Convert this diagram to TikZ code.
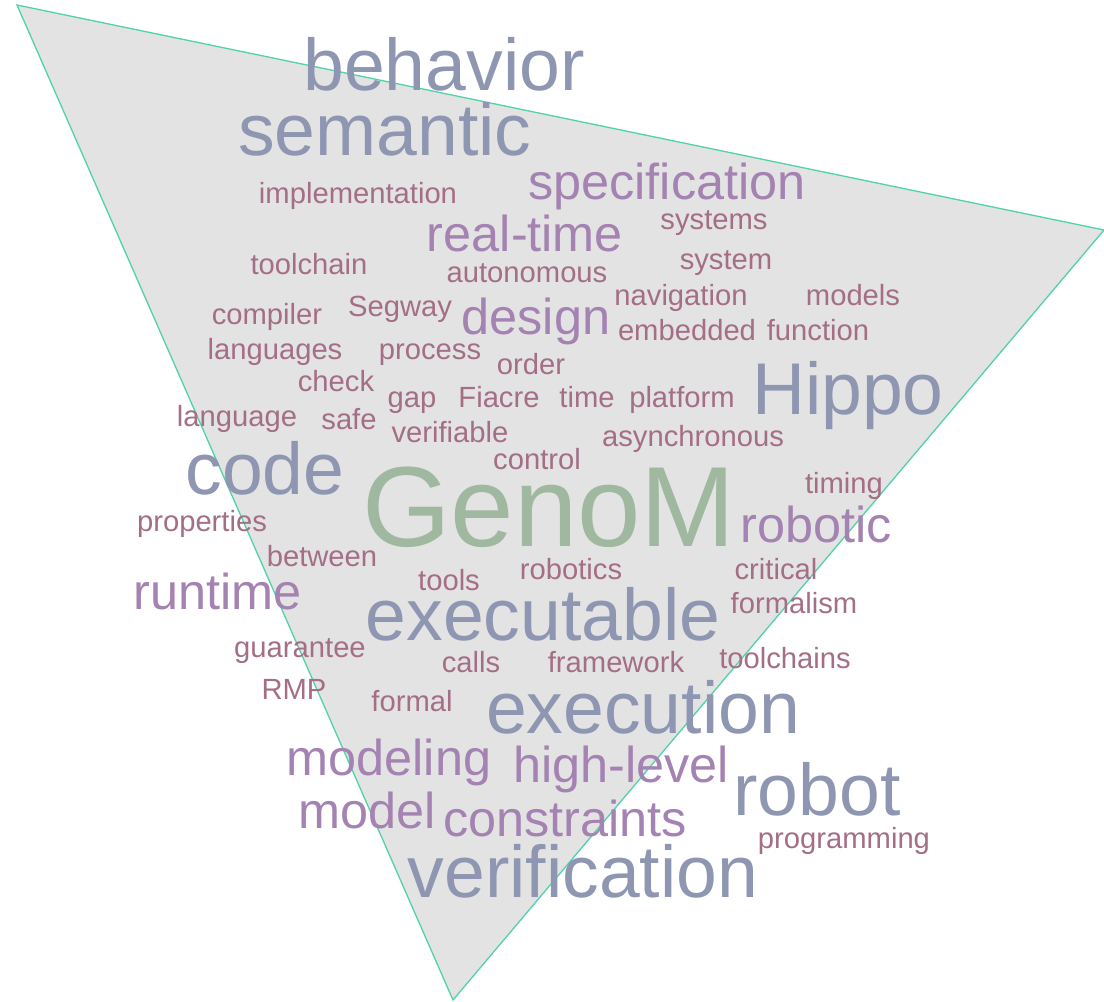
\documentclass[tikz,border=0pt]{standalone}
\usepackage{fontspec}
\setmainfont{Liberation Sans}
\definecolor{cBlue}{RGB}{142,150,178}
\definecolor{cPurple}{RGB}{164,130,178}
\definecolor{cMauve}{RGB}{164,110,134}
\definecolor{cGreen}{RGB}{160,184,160}
\definecolor{cEdge}{RGB}{80,210,170}
\definecolor{cFill}{RGB}{227,227,227}
\tikzset{
  word/.style={anchor=base, inner sep=0pt},
  huge word/.style={word, text=cGreen, font=\fontsize{114}{120}\selectfont},
  big word/.style={word, text=cBlue, font=\fontsize{73.3}{80}\selectfont},
  mid word/.style={word, text=cPurple, font=\fontsize{50.4}{56}\selectfont},
  small word/.style={word, text=cMauve, font=\fontsize{29.2}{34}\selectfont},
}
\begin{document}
\begin{tikzpicture}[x=1pt,y=-1pt]
\useasboundingbox (0,0) rectangle (1104,1002);
% triangular backdrop
\coordinate (tA) at (17,5);
\coordinate (tB) at (1104,230);
\coordinate (tC) at (453,1000);
\draw[cEdge, fill=cFill, line width=1.3pt] (tA) -- (tB) -- (tC) -- cycle;

% large words
\node[big word] (behavior) at (444,90) {behavior};
\node[big word] (semantic) at (385,155) {semantic};
\node[big word] (hippo) at (848,414) {Hippo};
\node[big word] (code) at (265,494) {code};
\node[big word] (executable) at (543,640) {executable};
\node[big word] (execution) at (643,733) {execution};
\node[big word] (robot) at (817,815) {robot};
\node[big word] (verification) at (583,897) {verification};
\node[huge word] (genom) at (549,546) {GenoM};

% medium words
\node[mid word] (specification) at (667,199) {specification};
\node[mid word] (realtime) at (525,251) {real-time};
\node[mid word] (design) at (536,334) {design};
\node[mid word] (robotic) at (816,542) {robotic};
\node[mid word] (runtime) at (218,609) {runtime};
\node[mid word] (modeling) at (389,775) {modeling};
\node[mid word] (highlevel) at (621,782) {high-level};
\node[mid word] (model) at (367,828) {model};
\node[mid word] (constraints) at (565,836) {constraints};

% small words
\node[small word] (implementation) at (358,203) {implementation};
\node[small word] (systems) at (714,229) {systems};
\node[small word] (toolchain) at (309,274) {toolchain};
\node[small word] (autonomous) at (527,282) {autonomous};
\node[small word] (system) at (726,269) {system};
\node[small word] (navigation) at (681,305) {navigation};
\node[small word] (models) at (853,305) {models};
\node[small word] (compiler) at (267,324) {compiler};
\node[small word] (segway) at (400,316) {Segway};
\node[small word] (embedded) at (687,340) {embedded};
\node[small word] (function) at (818,340) {function};
\node[small word] (languages) at (275,359) {languages};
\node[small word] (process) at (430,359) {process};
\node[small word] (order) at (531,374) {order};
\node[small word] (check) at (336,391) {check};
\node[small word] (gap) at (412,407) {gap};
\node[small word] (fiacre) at (499,407) {Fiacre};
\node[small word] (time) at (587,407) {time};
\node[small word] (platform) at (682,407) {platform};
\node[small word] (language) at (237,426) {language};
\node[small word] (safe) at (349,429) {safe};
\node[small word] (verifiable) at (450,442) {verifiable};
\node[small word] (asynchronous) at (693,446) {asynchronous};
\node[small word] (control) at (537,469) {control};
\node[small word] (timing) at (844,493) {timing};
\node[small word] (properties) at (202,531) {properties};
\node[small word] (between) at (322,566) {between};
\node[small word] (robotics) at (571,579) {robotics};
\node[small word] (critical) at (776,579) {critical};
\node[small word] (tools) at (449,590) {tools};
\node[small word] (formalism) at (794,613) {formalism};
\node[small word] (guarantee) at (300,657) {guarantee};
\node[small word] (calls) at (471,672) {calls};
\node[small word] (framework) at (616,672) {framework};
\node[small word] (toolchains) at (785,668) {toolchains};
\node[small word] (rmp) at (294,699) {RMP};
\node[small word] (formal) at (412,711) {formal};
\node[small word] (programming) at (844,848) {programming};
\end{tikzpicture}
\end{document}
